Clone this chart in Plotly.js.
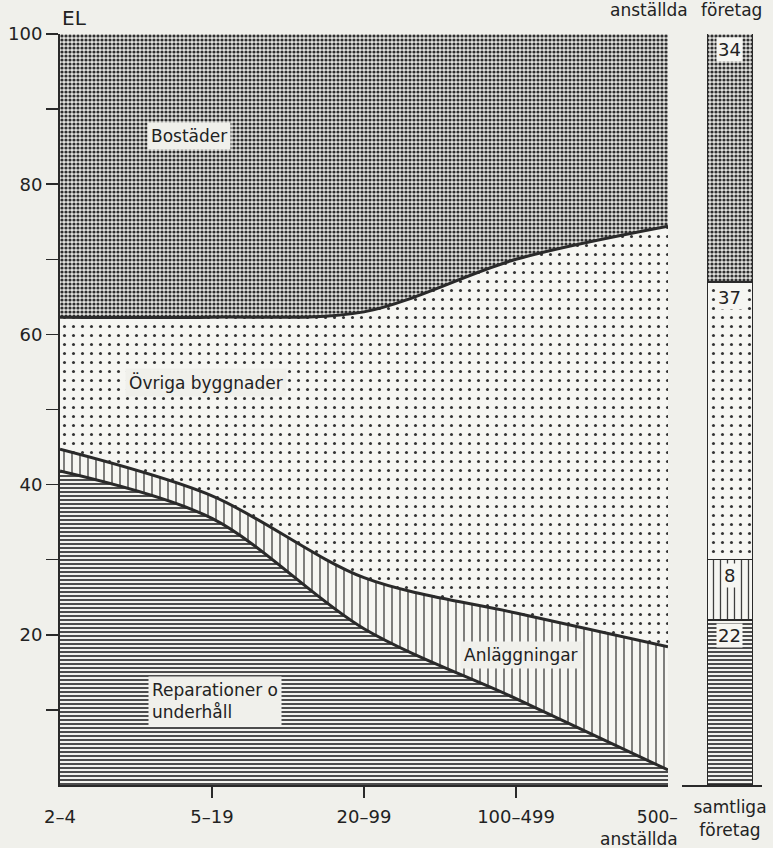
<!DOCTYPE html>
<html>
<head>
<meta charset="utf-8">
<script src="https://cdn.plot.ly/plotly-3.0.1.min.js"></script>
<style>html,body{margin:0;padding:0;background:#f0f0eb;}</style>
</head>
<body>
<div id="chart" style="width:773px;height:848px;"></div>
<script>
// Size classes (employees)
const categories = ['2–4', '5–19', '20–99', '100–499', '500–'];
const lastLabel = '500–<br>anställda';
// Shares (%) stacked bottom to top
const reparationer = [41.8, 35.5, 20.8, 11.5, 2.0];
const anlaggningar = [2.9, 3.0, 6.8, 11.4, 16.4];
const ovriga = [17.6, 23.8, 35.4, 47.1, 56.0];
const bostader = [37.7, 37.7, 37.0, 30.0, 25.6];
const seriesNames = ['Reparationer o<br>underhåll', 'Anläggningar', 'Övriga byggnader', 'Bostäder'];
// All companies ("samtliga företag")
const totalLabel = 'samtliga<br>företag';
const totalValues = [22, 8, 37, 34];
const yTickVals = [10, 20, 30, 40, 50, 60, 70, 80, 90, 100];
const yTickText = ['', '20', '', '40', '', '60', '', '80', '', '100'];

const FONT = 'DejaVu Sans, Liberation Sans, sans-serif';
const INK = '#2a2a2a';
const BG = '#f0f0eb';
const xIdx = categories.map((_, i) => i);

const patterns = [
  {shape: '-', size: 4, solidity: 0.45, fgcolor: '#3a3a3a', bgcolor: '#f4f4f0'},
  {shape: '|', size: 8, solidity: 0.16, fgcolor: '#3a3a3a', bgcolor: '#f6f6f2'},
  {shape: '.', size: 9, solidity: 0.09, fgcolor: '#333', bgcolor: '#f6f6f2'},
  {shape: '.', size: 4, solidity: 0.5, fgcolor: '#2e2e2e', bgcolor: '#e2e2de'}
];
const lineWidths = [3, 3, 3, 0];
const areaData = [reparationer, anlaggningar, ovriga, bostader];

const traces = areaData.map((vals, k) => ({
  type: 'scatter', mode: 'lines', x: xIdx, y: vals,
  stackgroup: 'one', name: seriesNames[k],
  line: {shape: 'spline', smoothing: 0.9, color: INK, width: lineWidths[k]},
  fillcolor: patterns[k].bgcolor,
  fillpattern: patterns[k],
  hoverinfo: 'skip', showlegend: false, xaxis: 'x', yaxis: 'y'
}));
// empty trace so the tick-only overlay axis is drawn
traces.push({type: 'scatter', mode: 'markers', x: [], y: [], xaxis: 'x3', yaxis: 'y', hoverinfo: 'skip', showlegend: false});

const barPatterns = [
  {shape: '-', size: 4, solidity: 0.45, fgcolor: '#3a3a3a', bgcolor: '#f4f4f0'},
  {shape: '|', size: 7, solidity: 0.18, fgcolor: '#3a3a3a', bgcolor: '#f6f6f2'},
  {shape: '.', size: 9, solidity: 0.09, fgcolor: '#333', bgcolor: '#f6f6f2'},
  {shape: '.', size: 4, solidity: 0.5, fgcolor: '#2e2e2e', bgcolor: '#e2e2de'}
];
totalValues.forEach((v, k) => {
  traces.push({
    type: 'bar', x: [totalLabel], y: [v], width: 0.56,
    marker: {color: barPatterns[k].bgcolor, pattern: barPatterns[k], line: {color: INK, width: 1.5}},
    hoverinfo: 'skip', showlegend: false, xaxis: 'x2', yaxis: 'y', cliponaxis: false
  });
});

const annotations = [];
// Region labels
const labelPos = [
  {x: 0.58, y: 11.2, xanchor: 'left', align: 'left'},
  {x: 3.03, y: 17.3, xanchor: 'center', align: 'center'},
  {x: 0.96, y: 53.6, xanchor: 'center', align: 'center'},
  {x: 0.85, y: 86.4, xanchor: 'center', align: 'center'}
];
seriesNames.forEach((n, k) => {
  annotations.push(Object.assign({
    text: n, xref: 'x', yref: 'y', showarrow: false,
    font: {family: FONT, size: 17, color: '#222'},
    bgcolor: BG, borderpad: 3
  }, labelPos[k]));
});
// Bar segment labels
let cum = 0;
totalValues.forEach((v, k) => {
  cum += v;
  annotations.push({
    text: String(v), x: totalLabel, y: Math.min(cum, 100), xref: 'x2', yref: 'y',
    yanchor: 'top', yshift: -3, showarrow: false,
    font: {family: FONT, size: 18, color: '#222'}, bgcolor: '#f6f6f2', borderpad: 1
  });
});
// Axis/header texts
annotations.push({text: 'EL', xref: 'paper', yref: 'paper', x: 0, y: 1, xanchor: 'left', yanchor: 'bottom', yshift: 2,
  showarrow: false, font: {family: FONT, size: 20, color: '#222'}});
annotations.push({text: lastLabel, xref: 'x', yref: 'paper', x: 4, y: 0, xanchor: 'right', yanchor: 'top', xshift: 12, yshift: -20,
  align: 'right', showarrow: false, font: {family: FONT, size: 17, color: '#222'}});
annotations.push({text: 'anställda', xref: 'paper', yref: 'paper', x: 0.8974, y: 1, xanchor: 'right', yanchor: 'bottom', yshift: 12,
  showarrow: false, font: {family: FONT, size: 17, color: '#222'}});
annotations.push({text: 'företag', xref: 'paper', yref: 'paper', x: 0.957, y: 1, xanchor: 'center', yanchor: 'bottom', yshift: 12,
  showarrow: false, font: {family: FONT, size: 17, color: '#222'}});

const layout = {
  width: 773, height: 848,
  margin: {l: 60, r: 11, t: 34, b: 63},
  paper_bgcolor: BG, plot_bgcolor: BG,
  showlegend: false, barmode: 'stack',
  font: {family: FONT, size: 17, color: '#222'},
  xaxis: {
    domain: [0, 0.8661], range: [0, 4], type: 'linear',
    tickmode: 'array', tickvals: xIdx.slice(0, 4), ticktext: categories.slice(0, 4),
    ticks: '', ticklabelstandoff: 14, showline: true, linecolor: INK, linewidth: 2,
    showgrid: false, zeroline: false, fixedrange: true,
    tickfont: {family: FONT, size: 18, color: '#222'}
  },
  xaxis3: {
    domain: [0, 0.8661], range: [0, 4], type: 'linear', overlaying: 'x', anchor: 'y', side: 'bottom',
    tickmode: 'array', tickvals: xIdx.slice(1, 4), showticklabels: false,
    ticks: 'outside', ticklen: 12, tickwidth: 1.5, tickcolor: INK,
    showline: false, showgrid: false, zeroline: false
  },
  xaxis2: {
    domain: [0.886, 1], range: [-0.6, 0.4], anchor: 'y', type: 'category',
    showline: true, linecolor: INK, linewidth: 2, ticks: '', ticklabelstandoff: 6,
    showgrid: false, zeroline: false,
    tickfont: {family: FONT, size: 17, color: '#222'}
  },
  yaxis: {
    domain: [0, 1], range: [0, 100],
    tickmode: 'array', tickvals: yTickVals, ticktext: yTickText,
    ticks: 'outside', ticklen: 12, tickwidth: 1.5, tickcolor: INK,
    showline: true, linecolor: INK, linewidth: 2,
    showgrid: false, zeroline: false,
    tickfont: {family: FONT, size: 18, color: '#222'}
  },
  annotations: annotations
};

Plotly.newPlot('chart', traces, layout, {staticPlot: true, displayModeBar: false});
</script>
</body>
</html>
